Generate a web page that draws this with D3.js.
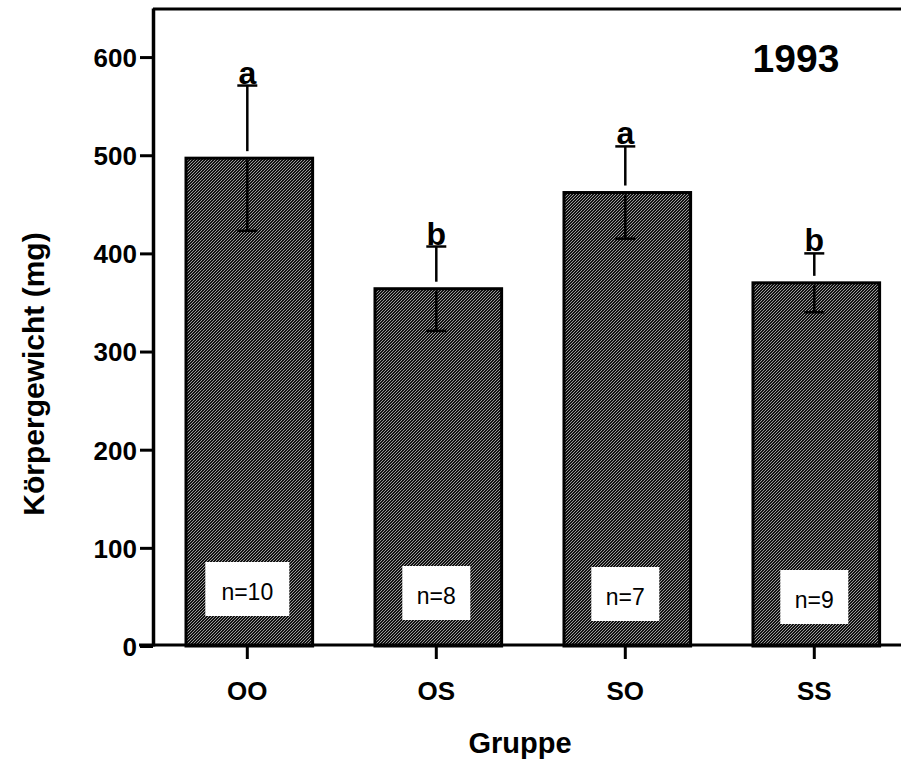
<!DOCTYPE html>
<html>
<head>
<meta charset="utf-8">
<script src="https://cdn.jsdelivr.net/npm/d3@7"></script>
<style>
  html, body { margin: 0; padding: 0; background: #fff; }
  svg { display: block; font-family: Arial, "Liberation Sans", sans-serif; }
</style>
</head>
<body>
<svg id="chart" width="901" height="761"></svg>
<script>
// Körpergewicht je Gruppe, 1993 (Mittelwert ± SE)
const groups = ["OO", "OS", "SO", "SS"];
const meanWeight = [497, 364, 462, 370];
const seWeight = [74, 43, 47, 30];
const sigLetters = ["a", "b", "a", "b"];
const sampleSizes = [10, 8, 7, 9];
const yTicks = [0, 100, 200, 300, 400, 500, 600];
const yearLabel = "1993";

const FONT = "Arial, 'Liberation Sans', sans-serif";
const svg = d3.select("#chart");

// hatch fill used for the bars
const defs = svg.append("defs");
const pat = defs.append("pattern")
  .attr("id", "hatch")
  .attr("patternUnits", "userSpaceOnUse")
  .attr("width", 3).attr("height", 3);
pat.append("rect").attr("width", 3).attr("height", 3).attr("fill", "#111");
[[0, 2], [1, 1], [2, 0]].forEach(([px, py]) =>
  pat.append("rect").attr("x", px).attr("y", py).attr("width", 1).attr("height", 1).attr("fill", "#9a9a9a"));

const plotLeft = 153, plotTop = 8, baseY = 646;

const y = d3.scaleLinear().domain([0, 650]).range([baseY, plotTop]);
const x = d3.scaleBand().domain(groups)
  .range([plotLeft, 912.6])
  .paddingInner(0.33)
  .paddingOuter(0.1746);

const data = groups.map((g, i) => ({
  g, mean: meanWeight[i], se: seWeight[i], letter: sigLetters[i], n: sampleSizes[i]
}));

// bars
svg.append("g").selectAll("rect")
  .data(data).join("rect")
  .attr("x", d => x(d.g))
  .attr("y", d => y(d.mean))
  .attr("width", x.bandwidth())
  .attr("height", d => y(0) - y(d.mean))
  .attr("fill", "url(#hatch)")
  .attr("stroke", "#000")
  .attr("stroke-width", 3);

// error bars: whisker above the bar, continuation inside the bar
const eb = svg.append("g").attr("stroke", "#000").attr("stroke-width", 2.5);
const cx = d => x(d.g) + x.bandwidth() / 2 - 2;
eb.selectAll("line.up").data(data).join("line")
  .attr("x1", cx).attr("x2", cx)
  .attr("y1", d => y(d.mean + d.se))
  .attr("y2", d => y(d.mean) - 7);
eb.selectAll("line.down").data(data).join("line")
  .attr("x1", cx).attr("x2", cx)
  .attr("y1", d => y(d.mean) + 2)
  .attr("y2", d => y(d.mean - d.se));
eb.selectAll("line.capu").data(data).join("line")
  .attr("x1", d => cx(d) - 10).attr("x2", d => cx(d) + 10)
  .attr("y1", d => y(d.mean + d.se)).attr("y2", d => y(d.mean + d.se));
eb.selectAll("line.capd").data(data).join("line")
  .attr("x1", d => cx(d) - 10).attr("x2", d => cx(d) + 10)
  .attr("y1", d => y(d.mean - d.se)).attr("y2", d => y(d.mean - d.se));

// significance letters
svg.append("g").selectAll("text")
  .data(data).join("text")
  .attr("x", cx)
  .attr("y", d => y(d.mean + d.se) - 2)
  .attr("text-anchor", "middle")
  .attr("font-size", 32)
  .attr("font-weight", "bold")
  .text(d => d.letter);

// sample size boxes
const boxDrop = [0, 4, 5, 8];
const nG = svg.append("g");
data.forEach((d, i) => {
  const label = "n=" + d.n;
  const w = label.length > 3 ? 84 : 68;
  const bx = cx(d) - w / 2;
  const by = 562 + boxDrop[i];
  nG.append("rect").attr("x", bx).attr("y", by).attr("width", w).attr("height", 54).attr("fill", "#fff");
  nG.append("text").attr("x", cx(d)).attr("y", by + 38)
    .attr("text-anchor", "middle").attr("font-size", 23).text(label);
});

// y axis
const yAxis = svg.append("g")
  .attr("transform", `translate(${plotLeft},0)`)
  .call(d3.axisLeft(y).tickValues(yTicks).tickSizeInner(13).tickSizeOuter(0).tickPadding(3));
yAxis.select(".domain").attr("stroke-width", 3.5);
yAxis.selectAll(".tick line").attr("stroke-width", 3);
yAxis.selectAll(".tick text").attr("font-size", 26).attr("font-weight", "bold")
  .attr("font-family", FONT).attr("dy", "0.36em");

// top frame line
svg.append("line")
  .attr("x1", plotLeft).attr("x2", 901)
  .attr("y1", plotTop + 1).attr("y2", plotTop + 1)
  .attr("stroke", "#000").attr("stroke-width", 3);

// x axis
const xAxis = svg.append("g")
  .attr("transform", `translate(-2,${baseY - 1})`)
  .call(d3.axisBottom(x).tickSizeInner(14).tickSizeOuter(0).tickPadding(23));
xAxis.select(".domain").remove();
xAxis.selectAll(".tick line").attr("stroke-width", 3);
xAxis.selectAll(".tick text").attr("font-size", 26).attr("font-weight", "bold")
  .attr("font-family", FONT);
svg.append("line")
  .attr("x1", 139).attr("x2", 901)
  .attr("y1", baseY - 1).attr("y2", baseY - 1)
  .attr("stroke", "#000").attr("stroke-width", 3);

// titles
svg.append("text")
  .attr("x", 796).attr("y", 72)
  .attr("text-anchor", "middle")
  .attr("font-size", 39).attr("font-weight", "bold")
  .text(yearLabel);

svg.append("text")
  .attr("x", 520).attr("y", 753)
  .attr("text-anchor", "middle")
  .attr("font-size", 29).attr("font-weight", "bold")
  .text("Gruppe");

svg.append("text")
  .attr("transform", "translate(44,374) rotate(-90)")
  .attr("text-anchor", "middle")
  .attr("font-size", 30).attr("font-weight", "bold")
  .text("Körpergewicht (mg)");
</script>
</body>
</html>
